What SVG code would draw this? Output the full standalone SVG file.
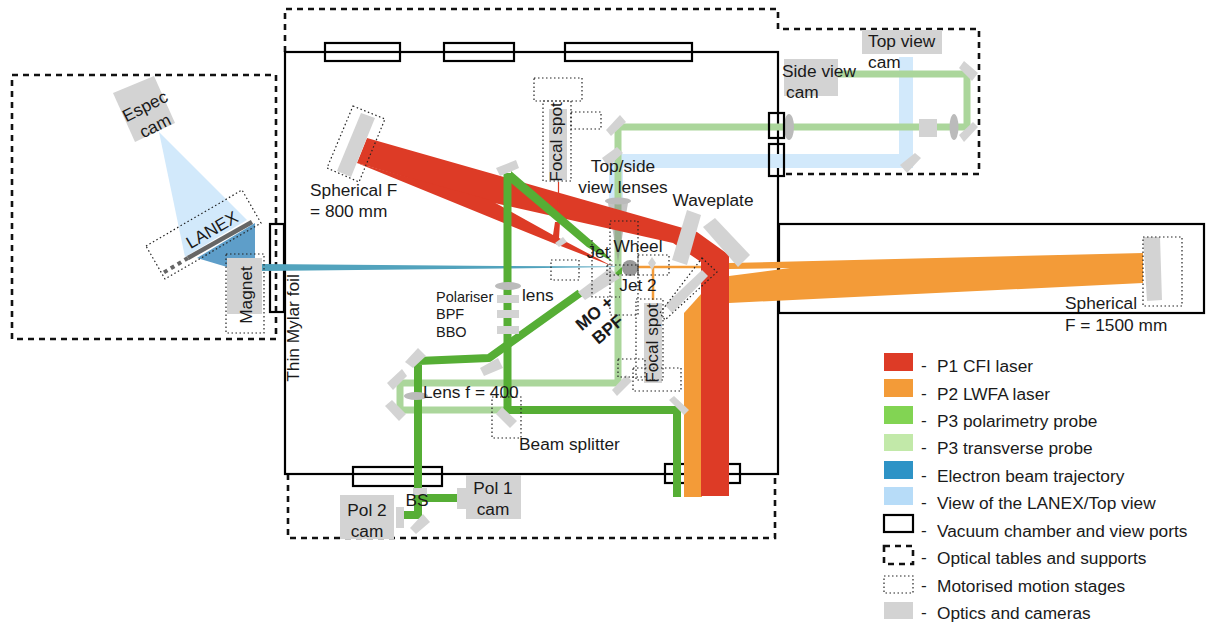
<svg xmlns="http://www.w3.org/2000/svg" width="1207" height="628" viewBox="0 0 1207 628">
<style>
text{font-family:"Liberation Sans",Arial,sans-serif;font-size:17.3px;fill:#1a1a1a}
.m{text-anchor:middle}
.sm{font-size:14.5px}
.bd{font-weight:bold}
.o{fill:#d3d3d3}
.v{fill:none;stroke:#000;stroke-width:2.2}
.t{fill:none;stroke:#111;stroke-width:2.6;stroke-dasharray:6 5}
.s{fill:none;stroke:#222;stroke-width:1.2;stroke-dasharray:1.5 2.5}
.b{fill:none}
.tp{stroke:#abd69b;stroke-width:7}
.pp{stroke:#56ae35;stroke-width:8}
.red{fill:#dd3b26}
.or{fill:#f39b38}
.lb{fill:#d2e9fb}
.l{fill:#bbb}
</style>
<rect width="1207" height="628" fill="#fff"/>
<g id="tables">
<rect class="t" x="12" y="75" width="264" height="264"/>
<path class="t" d="M285 52V9H778V29H979V174H784"/>
<path class="t" d="M288 474V538H775V474"/>
</g>
<g id="chamber">
<rect class="v" x="285" y="52" width="493" height="422"/>
<rect class="v" x="779" y="224" width="425" height="89"/>
<rect class="v" x="325" y="43" width="75" height="18"/>
<rect class="v" x="444" y="43" width="70" height="18"/>
<rect class="v" x="565" y="43" width="127" height="18"/>
<rect class="v" x="270" y="224" width="14" height="88"/>
<rect class="v" x="353" y="467" width="89" height="19"/>
<rect class="v" x="665" y="464" width="75" height="19"/>
</g>
<g id="connectors">
<polygon class="lb" points="159,132 185,257 247,220"/>
<polygon fill="#5e9ec9" points="197,258 255,223 255,267 227,267"/>
<path class="lb" d="M609 201V154H899V57H913V168H623V201Z"/>
<path class="b tp" d="M618 127H967V74H838"/>
<path class="b tp" d="M618 127V383H400V410H508"/>
<polygon fill="#888" opacity=".5" points="608,203 628,203 618,262"/>
<polygon fill="#52a3bd" points="262,264 262,271 500,268.500 615,267 615,266.500 500,266"/>
<polygon class="or" points="729,263 1143,253 1143,283 729,303 729,276 790,268 729,269"/>
<polygon class="or" points="684,497 684,313 702,293 702,497"/>
<path class="b" stroke="#f39b38" stroke-width="2.500" d="M638 267H707M653 267V300"/>
<polygon class="red" points="367,138 697,232 729,255 729,496 701,496 701,262 673,243 490,202 357,163"/>
<polygon class="red" points="357,163 490,200 553,235 555,222 560,222 559,238 612,266 553,243"/>
<path class="b" stroke="#dd3b26" stroke-width="1.200" d="M558.500 182V205"/>
<path class="b pp" d="M507.500 173V410H677V497" stroke-width="7"/>
<polygon fill="#56ae35" points="511,171 600,248 613,262 587,247 511,183"/>
<path class="b pp" d="M580 293L489 358L418 361V515H404" style="stroke-linejoin:round"/>
<path class="b pp" d="M418 498H457" stroke-width="7"/>
<polygon fill="#56ae35" points="611,277 622,267 622,274"/>
</g>
<g id="optics">
<polygon class="o" points="113,93 154,76 175,123 135,142"/>
<path stroke="#666" stroke-width="4.500" d="M188 258L252 222"/>
<path stroke="#666" stroke-width="4" stroke-dasharray="4 4" d="M188 258L163 273"/>
<rect class="o" x="227" y="258" width="35" height="56"/>
<polygon class="o" points="361,113 375,118 351,177 337,171"/>
<polygon class="o" points="496,168 516,160 519,168 500,176"/>
<polygon class="o" points="555,243 563,237 567,242 559,247"/>
<rect class="o" x="549" y="109" width="18" height="71"/>
<polygon class="o" points="606,130 620,115 626,122 611,136"/>
<polygon class="o" points="602,158 617,147 623,153 608,167"/>
<ellipse class="l" cx="618" cy="201" rx="13" ry="3.500"/>
<polygon class="o" points="578,292 610,268 620,278 585,300"/>
<polygon class="o" points="652,257 656,263 652,270 648,263"/>
<polygon class="o" points="687,210 701,215 687,265 672,260"/>
<polygon class="o" points="703,227 715,218 750,255 738,267"/>
<polygon class="o" points="665,305 702,270 708,276 672,313"/>
<rect class="o" x="644" y="303" width="18" height="80"/>
<polygon class="o" points="612,390 626,375 632,381 617,396"/>
<polygon class="o" points="669,400 674,396 689,410 684,415"/>
<polygon class="o" points="1143,237 1160,237 1162,300 1147,301"/>
<rect class="o" x="784" y="59" width="54" height="37"/>
<rect class="o" x="862" y="30" width="80" height="24"/>
<polygon class="o" points="900,165 915,153 921,158 907,173"/>
<polygon class="o" points="959,68 964,61 978,73 972,81"/>
<polygon class="o" points="959,135 973,122 978,127 964,142"/>
<rect class="o" x="919" y="119" width="18" height="18"/>
<ellipse class="l" cx="954" cy="127" rx="4.500" ry="13"/>
<ellipse class="l" cx="789" cy="127" rx="5" ry="13"/>
<polygon class="o" points="405,362 418,348 426,356 413,368"/>
<polygon class="o" points="387,383 402,369 407,376 393,390"/>
<polygon class="o" points="385,406 392,400 406,414 399,421"/>
<polygon class="o" points="480,368 498,358 503,368 484,376"/>
<polygon class="o" points="496,414 502,407 517,421 510,428"/>
<ellipse class="l" cx="416" cy="396" rx="12" ry="4"/>
<ellipse class="l" cx="508" cy="286" rx="13" ry="4"/>
<rect class="o" x="497" y="295" width="22" height="8"/>
<rect class="o" x="497" y="310" width="22" height="8"/>
<rect class="o" x="497" y="326" width="22" height="8"/>
<rect class="o" x="413" y="488" width="14" height="7"/>
<rect class="o" x="466" y="475" width="55" height="44"/>
<rect class="o" x="457" y="488" width="9" height="21"/>
<rect class="o" x="340" y="495" width="54" height="44"/>
<rect class="o" x="396" y="507" width="8" height="21"/>
<polygon class="o" points="410,528 423,514 430,522 416,534"/>
<circle cx="630" cy="268" r="8" fill="#999"/>
</g>
<g id="ports">
<rect class="v" x="769" y="113" width="15" height="25"/>
<rect class="v" x="769" y="144" width="15" height="32"/>
</g>
<g id="stages">
<polygon class="s" points="146,246 242,190 261,223 165,279"/>
<rect class="s" x="226" y="254" width="38" height="79"/>
<polygon class="s" points="353,106 385,119 359,182 327,168"/>
<rect class="s" x="534" y="78" width="48" height="23"/>
<rect class="s" x="543" y="101" width="28" height="80"/>
<rect class="s" x="571" y="112" width="30" height="17"/>
<rect class="s" x="551" y="260" width="28" height="20"/>
<rect class="s" x="610" y="221" width="28" height="94"/>
<path class="s" d="M592 240V297H620"/>
<rect class="s" x="607" y="265" width="31" height="10"/>
<rect class="s" x="638" y="255" width="31" height="20"/>
<polygon class="s" points="702,258 717,272 665,320 660,313"/>
<rect class="s" x="636" y="299" width="27" height="81"/>
<rect class="s" x="618" y="359" width="27" height="18"/>
<rect class="s" x="633" y="368" width="48" height="23"/>
<rect class="s" x="492" y="397" width="29" height="41"/>
<rect class="s" x="1143" y="237" width="39" height="69"/>
</g>
<g id="labels">
<g transform="translate(150,116) rotate(-27)"><text class="m" x="0" y="-5">Espec</text><text class="m" x="0" y="17">cam</text></g>
<text class="m" transform="translate(215,235) rotate(-30)">LANEX</text>
<text class="m" transform="translate(252,295) rotate(-90)">Magnet</text>
<text class="m" transform="translate(299,328) rotate(-90)">Thin Mylar foil</text>
<text x="310" y="196">Spherical F</text>
<text x="310" y="217">= 800 mm</text>
<text class="m" transform="translate(562,142) rotate(-90)">Focal spot</text>
<text class="m" x="623" y="172">Top/side</text>
<text class="m" x="623" y="193">view lenses</text>
<text class="m" x="713" y="206">Waveplate</text>
<text class="m" x="638" y="252">Wheel</text>
<text class="m" x="598" y="258">Jet</text>
<text class="m" x="638" y="291">Jet 2</text>
<text class="sm" x="436" y="302">Polariser</text>
<text class="sm" x="436" y="319">BPF</text>
<text class="sm" x="436" y="337">BBO</text>
<text x="522" y="301">lens</text>
<g transform="translate(600,320) rotate(-40)"><text class="m bd" x="0" y="-3">MO +</text><text class="m bd" x="0" y="18">BPF</text></g>
<text class="m" transform="translate(658,343) rotate(-90)">Focal spot</text>
<text x="423" y="398">Lens f = 400</text>
<text x="519" y="450">Beam splitter</text>
<text class="m" x="417" y="506">BS</text>
<text class="m" x="493" y="494">Pol 1</text>
<text class="m" x="493" y="515">cam</text>
<text class="m" x="367" y="516">Pol 2</text>
<text class="m" x="367" y="537">cam</text>
<text x="782" y="77">Side view</text>
<text x="786" y="98">cam</text>
<text x="868" y="47">Top view</text>
<text x="868" y="68">cam</text>
<text x="1065" y="309">Spherical</text>
<text x="1065" y="331">F = 1500 mm</text>
</g>
<g id="legend">
<rect x="884" y="353" width="29" height="18" fill="#dd3b26"/>
<rect x="884" y="379" width="29" height="18" fill="#f39b38"/>
<rect x="884" y="406" width="29" height="18" fill="#82d453"/>
<rect x="884" y="434" width="29" height="17" fill="#c2e9a9"/>
<rect x="884" y="461" width="29" height="18" fill="#2e93c6"/>
<rect x="884" y="487" width="29" height="18" fill="#b7dcf8"/>
<rect class="v" x="884" y="515" width="29" height="17"/>
<rect class="t" x="884" y="546" width="29" height="18"/>
<rect class="s" x="884" y="576" width="29" height="17"/>
<rect class="o" x="884" y="602" width="29" height="17"/>
<text x="921" y="371">-</text><text x="937" y="372">P1 CFI laser</text>
<text x="921" y="399">-</text><text x="937" y="400">P2 LWFA laser</text>
<text x="921" y="426">-</text><text x="937" y="427">P3 polarimetry probe</text>
<text x="921" y="453">-</text><text x="937" y="454">P3 transverse probe</text>
<text x="921" y="481">-</text><text x="937" y="482">Electron beam trajectory</text>
<text x="921" y="508">-</text><text x="937" y="509">View of the LANEX/Top view</text>
<text x="921" y="536">-</text><text x="937" y="537">Vacuum chamber and view ports</text>
<text x="921" y="563">-</text><text x="937" y="564">Optical tables and supports</text>
<text x="921" y="591">-</text><text x="937" y="592">Motorised motion stages</text>
<text x="921" y="618">-</text><text x="937" y="619">Optics and cameras</text>
</g>
</svg>
